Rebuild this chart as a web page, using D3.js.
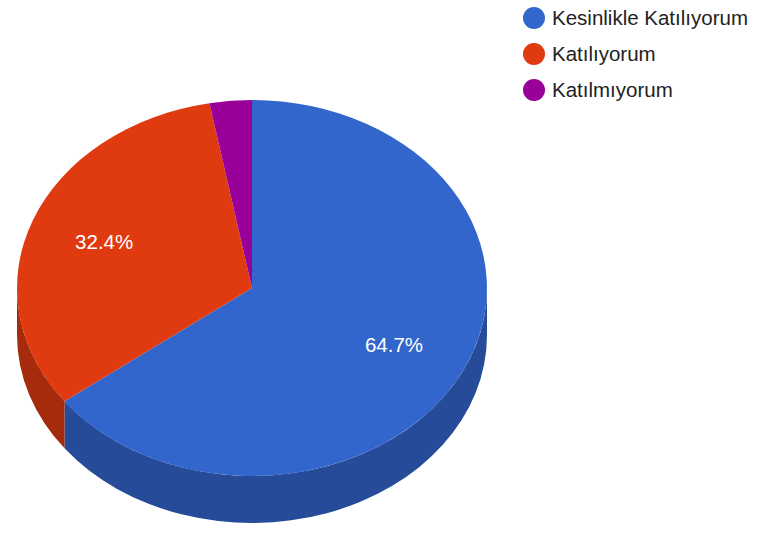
<!DOCTYPE html>
<html><head><meta charset="utf-8">
<script src="https://cdn.jsdelivr.net/npm/d3@7"></script>
<style>html,body{margin:0;padding:0;background:#fff}svg{display:block}</style>
</head><body><div id="c"></div>
<script>
const categories = ["Kesinlikle Katılıyorum", "Katılıyorum", "Katılmıyorum"];
const values = [64.7, 32.4, 2.9];
const labels = ["64.7%", "32.4%", ""];
const topColors = ["#3366cc", "#e03a10", "#990099"];
const sideColors = ["#264c99", "#a52b0c", "#730073"];

const W = 774, H = 534, cx = 252, cy = 288, rx = 235, ry = 188, depth = 47;
const svg = d3.select("#c").append("svg").attr("width", W).attr("height", H);
const pie = d3.pie().sort(null).value(d => d)(values);
const g = svg.append("g").attr("transform", `translate(${cx},${cy}) scale(${rx},${ry})`);
const dz = depth / ry, PI = Math.PI;

// side wall: only the front half (90deg..270deg clockwise from top) is visible
pie.forEach((p, i) => {
  const a0 = Math.max(p.startAngle, PI / 2), a1 = Math.min(p.endAngle, 3 * PI / 2);
  if (a1 <= a0) return;
  const pth = d3.path();
  pth.arc(0, 0, 1, a0 - PI / 2, a1 - PI / 2);
  pth.arc(0, dz, 1, a1 - PI / 2, a0 - PI / 2, true);
  pth.closePath();
  g.append("path").attr("d", pth.toString()).attr("fill", sideColors[i]);
});
// top face
const arc = d3.arc().innerRadius(0).outerRadius(1);
g.selectAll("path.top").data(pie).join("path").attr("class", "top")
  .attr("d", arc).attr("fill", (d, i) => topColors[i]);

// slice labels
const font = "'Liberation Sans', Arial, sans-serif";
svg.append("g").selectAll("text").data(pie).join("text")
  .attr("x", d => cx + rx * 0.675 * Math.sin((d.startAngle + d.endAngle) / 2))
  .attr("y", d => cy - ry * 0.675 * Math.cos((d.startAngle + d.endAngle) / 2) + 7)
  .attr("text-anchor", "middle").attr("fill", "#fff")
  .attr("font-family", font).attr("font-size", 20.5)
  .text((d, i) => labels[i]);

// legend
const yL = d3.scalePoint().domain(categories).range([18, 90]);
const lg = svg.append("g").selectAll("g").data(categories).join("g")
  .attr("transform", d => `translate(0,${yL(d)})`);
lg.append("circle").attr("cx", 534).attr("r", 11).attr("fill", (d, i) => topColors[i]);
lg.append("text").attr("x", 552).attr("y", 7).attr("fill", "#222")
  .attr("font-family", font).attr("font-size", 20.5).text(d => d);
</script></body></html>
